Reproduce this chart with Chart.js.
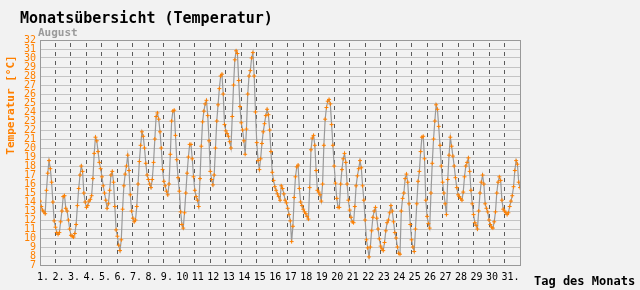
<!DOCTYPE html>
<html>
<head>
<meta charset="utf-8">
<script src="https://cdn.jsdelivr.net/npm/chart.js@4.4.0/dist/chart.umd.min.js"></script>
<style>
  html, body { margin:0; padding:0; background:#f2f2f2; }
  #wrap { position:relative; width:640px; height:290px; }
</style>
</head>
<body>
<div id="wrap"><canvas id="chart"></canvas></div>
<script>
// ===== Monatsübersicht Temperatur — August =====

const TITLE   = 'Monatsübersicht (Temperatur)';
const MONTH   = 'August';
const Y_TITLE = 'Temperatur [°C]';
const X_TITLE = 'Tag des Monats';

const DAY_LABELS = ['1.','2.','3.','4.','5.','6.','7.','8.','9.','10','11','12','13','14','15','16',
                    '17','18','19','20','21','22','23','24','25','26','27','28','29','30','31.'];
const Y_MIN = 7, Y_MAX = 32;
const READINGS_PER_DAY = 12;   // one reading every 2 hours

const ORANGE = '#ff8000';
const MONO = '"DejaVu Sans Mono", monospace';

// 00:00 of the 1st to 24:00 of the 31st
const TEMPS = [
  14.1, 13.5, 13.1, 12.9, 12.7, 15.3, 17.2, 18.6, 17.7, 16.2, 14.0, 11.9,  // 1.
  11.2, 10.6, 10.4, 10.6, 11.8, 13.0, 14.6, 14.7, 13.3, 13.0, 12.0, 11.0,  // 2.
  10.3, 10.2, 10.1, 10.5, 11.5, 13.6, 15.5, 17.0, 18.0, 17.4, 15.0, 14.0,  // 3.
  13.4, 13.6, 14.1, 14.3, 14.7, 16.6, 19.4, 21.2, 20.8, 19.6, 18.4, 17.7,  // 4.
  16.8, 15.8, 15.0, 14.2, 13.3, 13.8, 15.3, 17.0, 17.4, 16.2, 13.5, 10.9,  // 5.
  10.2,  9.2,  8.6,  9.8, 13.2, 15.8, 17.1, 18.0, 19.2, 17.5, 14.8, 13.0,  // 6.
  12.2, 11.8, 12.0, 13.5, 16.0, 18.5, 20.3, 21.8, 21.3, 20.0, 18.3, 17.0,  // 7.
  16.5, 16.0, 15.6, 16.5, 18.4, 21.0, 23.5, 23.9, 23.2, 21.8, 20.0, 17.6,  // 8.
  16.3, 15.8, 15.2, 14.8, 16.0, 19.3, 23.0, 24.1, 24.2, 21.4, 18.7, 16.7,  // 9.
  15.2, 12.9, 11.5, 11.1, 12.8, 15.0, 17.2, 19.0, 20.4, 20.4, 18.8, 16.8,  // 10
  15.3, 14.6, 14.2, 13.5, 16.6, 20.2, 22.9, 24.1, 24.9, 25.3, 23.6, 20.8,  // 11
  17.4, 16.5, 15.9, 17.0, 20.0, 23.0, 24.8, 26.6, 28.0, 28.2, 26.0, 22.6,  // 12
  21.9, 21.6, 21.3, 20.7, 20.0, 23.5, 27.0, 29.8, 30.8, 30.5, 27.5, 24.6,  // 13
  22.8, 22.0, 20.8, 19.3, 22.1, 26.0, 28.0, 28.6, 30.0, 30.6, 28.0, 24.0,  // 14
  20.6, 18.6, 17.6, 18.8, 20.5, 21.8, 22.7, 23.6, 24.3, 23.7, 22.0, 19.6,  // 15
  17.3, 16.4, 15.7, 15.3, 14.9, 14.6, 14.2, 15.8, 15.5, 14.9, 14.2, 13.9,  // 16
  13.3, 12.6, 11.9,  9.6, 11.3, 14.5, 16.8, 17.9, 18.1, 15.5, 14.0, 13.6,  // 17
  13.2, 12.9, 12.7, 12.4, 12.1, 15.6, 19.8, 21.1, 21.4, 20.3, 17.5, 15.3,  // 18
  15.1, 14.8, 14.1, 16.0, 20.3, 23.2, 24.5, 25.2, 25.4, 24.9, 22.6, 20.3,  // 19
  18.0, 16.1, 14.4, 13.4, 13.4, 16.0, 17.6, 18.8, 19.4, 18.4, 16.0, 14.2,  // 20
  13.1, 12.3, 11.8, 11.7, 13.5, 15.8, 16.9, 17.7, 18.6, 17.8, 15.8, 14.2,  // 21
  12.0,  9.8,  8.9,  7.9,  9.0, 10.8, 12.3, 13.0, 13.4, 12.2, 11.0,  9.9,  // 22
   9.1,  8.8,  8.6,  9.5, 10.8, 11.7, 12.0, 12.8, 13.6, 13.0, 11.8, 10.6,  // 23
  10.0,  9.0,  8.3,  8.2, 13.0, 14.4, 15.0, 16.6, 17.1, 16.2, 13.8, 11.5,  // 24
   9.8,  9.0,  8.5, 11.0, 13.8, 16.3, 17.4, 19.6, 21.2, 21.3, 18.8, 14.2,  // 25
  12.4, 11.6, 11.1, 15.0, 18.3, 21.0, 23.0, 24.8, 24.3, 22.4, 20.3, 18.0,  // 26
  16.2, 15.0, 13.8, 12.6, 16.5, 19.2, 21.2, 20.2, 19.1, 18.0, 16.7, 15.6,  // 27
  14.8, 14.6, 14.4, 14.2, 15.1, 16.8, 18.0, 18.4, 18.9, 17.4, 15.3, 13.8,  // 28
  12.6, 11.7, 11.4, 11.0, 13.0, 15.0, 16.2, 17.0, 16.0, 13.8, 13.3, 12.9,  // 29
  12.0, 11.5, 11.2, 11.1, 11.8, 12.9, 15.0, 16.2, 16.8, 16.4, 14.2, 13.2,  // 30
  13.0, 12.8, 12.6, 12.8, 13.5, 14.1, 14.7, 15.7, 17.5, 18.6, 18.2, 16.2,  // 31
  15.6
];

// frame round the plot + the free texts
const frameAndText = {
  id: 'frameAndText',
  beforeDatasetsDraw(chart) {
    const { ctx, chartArea: a } = chart;
    ctx.save();
    ctx.strokeStyle = '#999';
    ctx.lineWidth = 1;
    ctx.strokeRect(a.left + 0.5, a.top + 0.5, a.right - a.left, a.bottom - a.top);
    ctx.restore();
  },
  afterDraw(chart) {
    const { ctx } = chart;
    ctx.save();
    ctx.textBaseline = 'alphabetic';
    ctx.textAlign = 'left';
    ctx.fillStyle = '#000';
    ctx.font = 'bold 15px ' + MONO;
    ctx.fillText(TITLE, 20, 22.5);
    ctx.fillStyle = '#9a9a9a';
    ctx.font = 'bold 11px ' + MONO;
    ctx.fillText(MONTH, 38, 36);
    ctx.fillStyle = '#000';
    ctx.font = 'bold 12px ' + MONO;
    ctx.fillText(X_TITLE, 534, 285);
    // rotated y title
    ctx.translate(11, 105);
    ctx.rotate(-Math.PI / 2);
    ctx.textAlign = 'center';
    ctx.textBaseline = 'middle';
    ctx.fillStyle = ORANGE;
    ctx.font = 'bold 11px ' + MONO;
    ctx.fillText(Y_TITLE, 0, 0);
    ctx.restore();
  }
};

new Chart(document.getElementById('chart'), {
  type: 'line',
  data: {
    datasets: [{
      data: TEMPS.map((t, i) => ({ x: i / READINGS_PER_DAY, y: t })),
      borderColor: '#999',
      borderWidth: 1.2,
      tension: 0,
      pointStyle: 'cross',
      pointRadius: 2,
      pointBorderWidth: 1,
      pointBorderColor: ORANGE,
      pointBackgroundColor: ORANGE
    }]
  },
  options: {
    responsive: true, maintainAspectRatio: false, animation: false,
    layout: { padding: { top: 40, right: 120, bottom: 0, left: 0 } },
    plugins: { legend: { display: false }, tooltip: { enabled: false } },
    scales: {
      x: {
        type: 'linear', min: 0, max: DAY_LABELS.length,
        afterBuildTicks: s => { s.ticks = DAY_LABELS.map((_, i) => ({ value: i })); },
        afterFit: s => { s.height = 25; },
        grid: { color: c => c.index === 0 ? 'rgba(0,0,0,0)' : '#5a5a5a', lineWidth: 1, drawTicks: false },
        border: { display: false, dash: [4, 5], dashOffset: 6 },
        ticks: {
          callback: (v, i) => DAY_LABELS[i],
          autoSkip: false, maxRotation: 0, align: 'start', labelOffset: -3, padding: 6,
          color: '#000', font: { family: MONO, size: 10 }
        }
      },
      y: {
        min: Y_MIN, max: Y_MAX,
        afterFit: s => { s.width = 40; },
        grid: { color: '#c4c4c4', lineWidth: 1, drawTicks: false },
        border: { display: false },
        ticks: {
          stepSize: 1, autoSkip: false, padding: 4,
          color: ORANGE, font: { family: MONO, size: 10 }
        }
      }
    }
  },
  plugins: [frameAndText]
});
</script>
</body>
</html>
